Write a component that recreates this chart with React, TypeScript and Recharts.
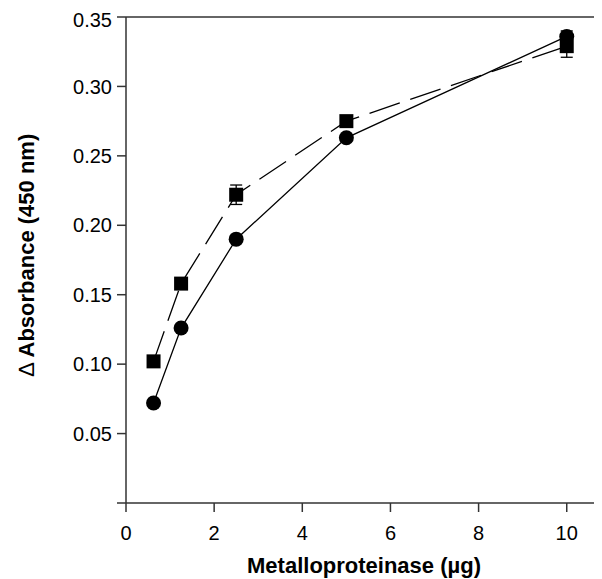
import { ComposedChart, Line, XAxis, YAxis, ErrorBar, ReferenceLine } from 'recharts';

const FONT = 'Liberation Sans, Arial, Helvetica, sans-serif';
const INK = '#000';
const AXIS = '#333';

// Metalloproteinase amount (µg)
const doses = [0.625, 1.25, 2.5, 5, 10];
// Δ absorbance at 450 nm
const circleValues = [0.072, 0.126, 0.19, 0.263, 0.336];
const circleErrors = [0, 0, 0, 0, 0.004];
const squareValues = [0.102, 0.158, 0.222, 0.275, 0.329];
const squareErrors = [0, 0, 0.007, 0, 0.008];

const xTicks = [0, 2, 4, 6, 8, 10];
const yTicks = [0, 0.05, 0.1, 0.15, 0.2, 0.25, 0.3, 0.35];

const circleData = doses.map((x, i) => ({ x, y: circleValues[i], err: circleErrors[i] }));
const squareData = doses.map((x, i) => ({ x, y: squareValues[i], err: squareErrors[i] }));

const CircleDot = (props: any) => {
  const { cx, cy, index } = props;
  if (cx == null || cy == null) return null;
  return <circle key={`c${index}`} cx={cx} cy={cy} r={7.5} fill={INK} />;
};

const SquareDot = (props: any) => {
  const { cx, cy, index } = props;
  if (cx == null || cy == null) return null;
  return <rect key={`s${index}`} x={cx - 7} y={cy - 7} width={14} height={14} fill={INK} />;
};

// rotated y title, delta sign kept in normal weight like the original
const YTitle = (props: any) => {
  const { viewBox } = props;
  const cx = 18;
  const cy = viewBox.y + viewBox.height / 2 - 5;
  return (
    <text
      x={cx}
      y={cy}
      transform={`rotate(-90, ${cx}, ${cy})`}
      textAnchor="middle"
      dominantBaseline="central"
      style={{ fontSize: 22, fontWeight: 700, fill: INK, fontFamily: FONT }}
    >
      <tspan fontWeight={400}>∆</tspan> Absorbance (450 nm)
    </text>
  );
};

const tickStyle = { fontSize: 20, fill: INK, fontFamily: FONT };

export default function App() {
  return (
    <div style={{ fontFamily: FONT }}>
      <ComposedChart width={594} height={571} margin={{ top: 9, right: 0, bottom: 0, left: 0 }}>
        <XAxis
          type="number"
          dataKey="x"
          domain={[0, 10.8]}
          ticks={xTicks}
          allowDataOverflow
          stroke={AXIS}
          strokeWidth={1.5}
          tickSize={9}
          tickMargin={14}
          tick={tickStyle}
          tickLine={{ stroke: AXIS, strokeWidth: 1.5 }}
          height={76}
          label={{
            value: 'Metalloproteinase (µg)',
            position: 'insideBottom',
            offset: 6,
            style: { fontSize: 22, fontWeight: 700, fill: INK, fontFamily: FONT },
          }}
        />
        <YAxis
          type="number"
          domain={[0, 0.35]}
          ticks={yTicks}
          allowDataOverflow
          width={118}
          stroke={AXIS}
          strokeWidth={1.5}
          tickSize={9}
          tickMargin={5}
          tick={tickStyle}
          tickLine={{ stroke: AXIS, strokeWidth: 1.5 }}
          tickFormatter={(v: number) => (v === 0 ? '' : v.toFixed(2))}
          label={<YTitle />}
        />
        <ReferenceLine y={0.35} stroke={AXIS} strokeWidth={1.5} />
        <Line
          data={squareData}
          dataKey="y"
          stroke={INK}
          strokeWidth={1.3}
          strokeDasharray="32 11"
          dot={SquareDot}
          activeDot={false}
          isAnimationActive={false}
        >
          <ErrorBar dataKey="err" direction="y" width={6} stroke={INK} strokeWidth={1.3} />
        </Line>
        <Line
          data={circleData}
          dataKey="y"
          stroke={INK}
          strokeWidth={1.3}
          dot={CircleDot}
          activeDot={false}
          isAnimationActive={false}
        >
          <ErrorBar dataKey="err" direction="y" width={6} stroke={INK} strokeWidth={1.3} />
        </Line>
      </ComposedChart>
    </div>
  );
}
